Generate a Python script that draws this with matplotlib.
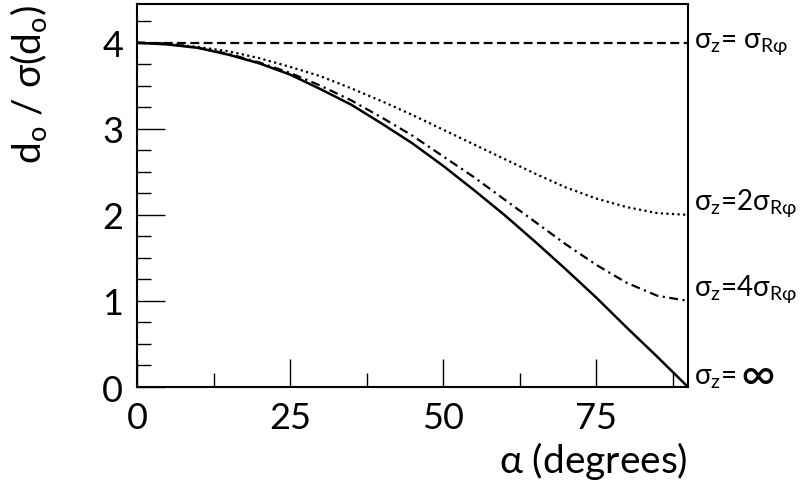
import matplotlib
matplotlib.use("Agg")
import matplotlib.pyplot as plt
from matplotlib.ticker import MultipleLocator

alpha = [0,5,10,15,20,25,30,35,40,45,50,55,60,65,70,75,80,85,90]
y_equal = [4.0]*19
y_2 = [4,3.99,3.95,3.90,3.82,3.72,3.61,3.47,3.32,3.16,2.99,2.82,2.65,2.48,2.32,2.19,2.09,2.02,2.0]
y_4 = [4,3.99,3.94,3.87,3.77,3.65,3.50,3.33,3.13,2.92,2.68,2.44,2.18,1.92,1.66,1.42,1.21,1.06,1.0]
y_inf = [4,3.98,3.94,3.86,3.76,3.63,3.46,3.28,3.06,2.83,2.57,2.29,2.0,1.69,1.37,1.04,0.69,0.35,0.0]

plt.rcParams['font.family'] = ['Lato', 'DejaVu Sans']
plt.rcParams['mathtext.default'] = 'regular'
fig = plt.figure(figsize=(8.09,4.85), dpi=100)
ax = fig.add_axes([137/809, 1-388/485, (688-137)/809, (388-5)/485])
ax.plot(alpha, y_equal, 'k', ls=(0,(4,2)), lw=1.6)
ax.plot(alpha, y_2, 'k', ls=(0,(1,1.5)), lw=1.6)
ax.plot(alpha, y_4, 'k', ls=(0,(4,2,1,2)), lw=1.6)
ax.plot(alpha, y_inf, 'k', ls='-', lw=1.8)
ax.set_xlim(0,90); ax.set_ylim(0,4.45)
ax.xaxis.set_major_locator(MultipleLocator(25)); ax.xaxis.set_minor_locator(MultipleLocator(12.5))
ax.yaxis.set_major_locator(MultipleLocator(1)); ax.yaxis.set_minor_locator(MultipleLocator(0.25))
ax.tick_params(which='both', direction='in', top=False, right=False, labelsize=26, colors='black')
ax.tick_params(which='major', length=20, width=1, pad=10)
ax.tick_params(which='minor', length=10, width=1)
for s in ax.spines.values(): s.set_linewidth(1.5)
ax.set_xlabel(r'$\alpha$ (degrees)', fontsize=28, loc='right', labelpad=4)
ax.set_ylabel(r'd$_o$ / $\sigma$(d$_o$)', fontsize=28, loc='top', labelpad=38)
kw = dict(transform=ax.transData, fontsize=20, va='center', ha='left', clip_on=False)
ax.text(91, 4.0, r'$\sigma_z$= $\sigma_{R\varphi}$', **kw)
ax.text(91, 2.15, r'$\sigma_z$=2$\sigma_{R\varphi}$', **kw)
ax.text(91, 1.15, r'$\sigma_z$=4$\sigma_{R\varphi}$', **kw)
ax.text(91, 0.12, r'$\sigma_z$=', **kw)
ax.text(98.5, 0.14, r'$\infty$', transform=ax.transData, fontsize=34, va='center', ha='left', clip_on=False)
fig.savefig('out.png', dpi=100)
